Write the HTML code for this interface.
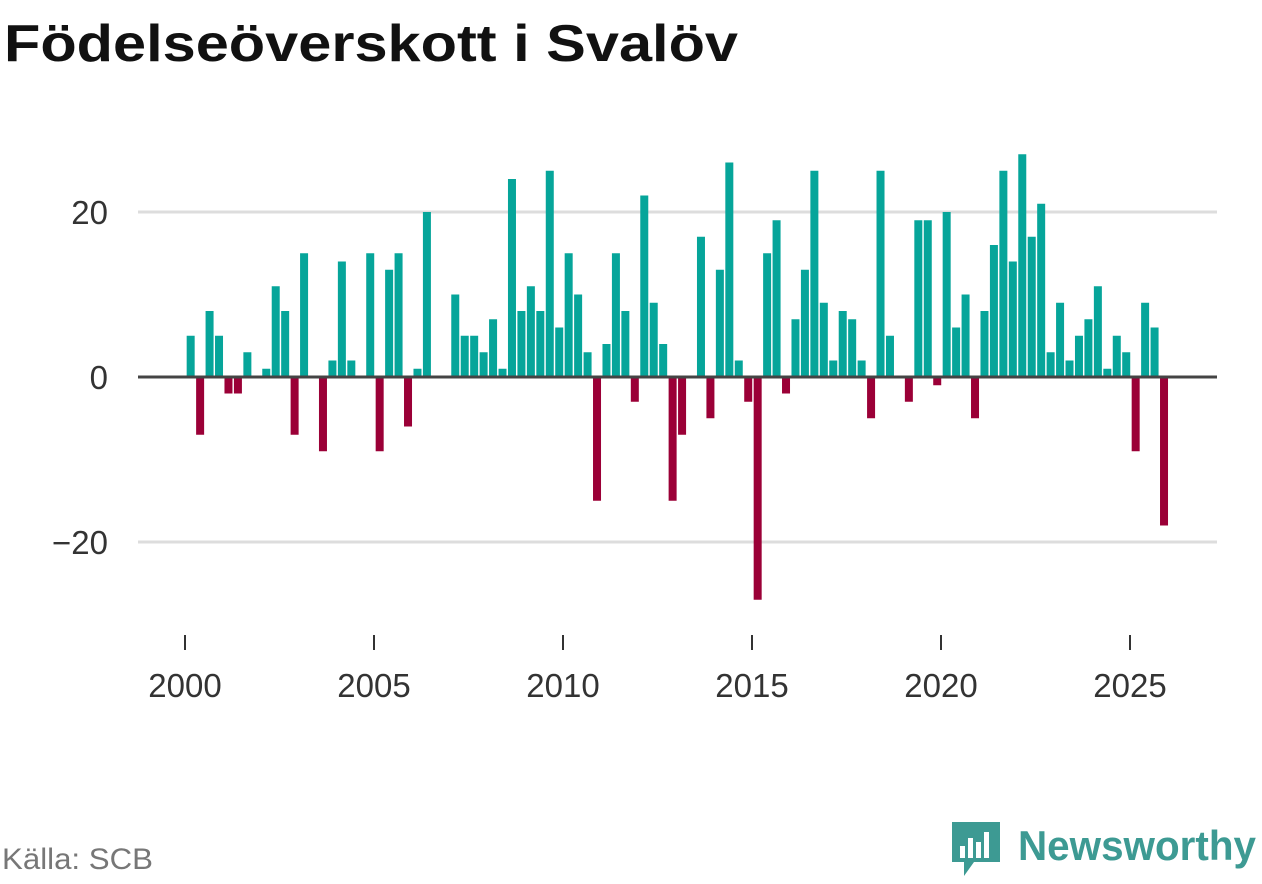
<!DOCTYPE html>
<html><head><meta charset="utf-8"><style>
body{margin:0;background:#fff;font-family:"Liberation Sans",sans-serif;}
</style></head><body>
<svg width="1262" height="879" xmlns="http://www.w3.org/2000/svg">
<text x="4" y="61" font-size="52" font-weight="bold" fill="#111" textLength="734" lengthAdjust="spacingAndGlyphs">Födelseöverskott i Svalöv</text>
<g id="grid"></g><g id="bars"></g><g id="axes"></g>
<text x="2" y="869" font-size="30" fill="#777" textLength="151" lengthAdjust="spacingAndGlyphs">Källa: SCB</text>
<g>
<path d="M952 822 h48 v40 h-26 l-10 14 v-14 h-12 z" fill="#3d9a93"/>
<rect x="960" y="846" width="5" height="12" fill="#fff"/><rect x="968" y="838" width="5" height="20" fill="#fff"/><rect x="976" y="842" width="5" height="16" fill="#fff"/><rect x="984" y="832" width="5" height="26" fill="#fff"/>
<text x="1018" y="860" font-size="42" font-weight="bold" fill="#3d9a93" textLength="238" lengthAdjust="spacingAndGlyphs">Newsworthy</text>
</g>
</svg>
<script>
const values=[5,-7,8,5,-2,-2,3,0,1,11,8,-7,15,0,-9,2,14,2,0,15,-9,13,15,-6,1,20,0,0,10,5,5,3,7,1,24,8,11,8,25,6,15,10,3,-15,4,15,8,-3,22,9,4,-15,-7,0,17,-5,13,26,2,-3,-27,15,19,-2,7,13,25,9,2,8,7,2,-5,25,5,0,-3,19,19,-1,20,6,10,-5,8,16,25,14,27,17,21,3,9,2,5,7,11,1,5,3,-9,9,6,-18];
const startYear=2000;
const yTicks=[-20,0,20];
const yTickLabels=["\u221220","0","20"];
const xTicks=[2000,2005,2010,2015,2020,2025];
const NS="http://www.w3.org/2000/svg";
const y=v=>377-v*8.25;
const x=yr=>185+(yr-startYear)*37.8;
function mk(t,a,p){const e=document.createElementNS(NS,t);for(const k in a)e.setAttribute(k,a[k]);p.appendChild(e);return e;}
const grid=document.getElementById('grid'),bars=document.getElementById('bars'),axes=document.getElementById('axes');
yTicks.forEach((t,i)=>{
 if(t!==0){const l=mk('line',{x1:138,x2:1217,y1:y(t),y2:y(t),stroke:'#ddd','stroke-width':3},grid);
 
 }
 const tx=mk('text',{x:108,y:y(t)+12,'font-size':33,fill:'#333','text-anchor':'end'},axes);
 tx.textContent=yTickLabels[i];
 
 
});
values.forEach((v,i)=>{
 const cx=x(startYear+i/4+0.15);
 const r=mk('rect',{x:cx-4,width:8,y:v>=0?y(v):y(0),height:Math.abs(y(v)-y(0)),fill:v>=0?'#06a59a':'#9b0037'},bars);
 
 
});
const zl=mk('line',{x1:138,x2:1217,y1:y(0),y2:y(0),stroke:'#444','stroke-width':3},axes);


xTicks.forEach(t=>{
 const l=mk('line',{x1:x(t),x2:x(t),y1:635,y2:650,stroke:'#333','stroke-width':2},axes);
 
 
 const tx=mk('text',{x:x(t),y:697,'font-size':33,fill:'#333','text-anchor':'middle'},axes);
 tx.textContent=t;
 
 
});
</script>
</body></html>
